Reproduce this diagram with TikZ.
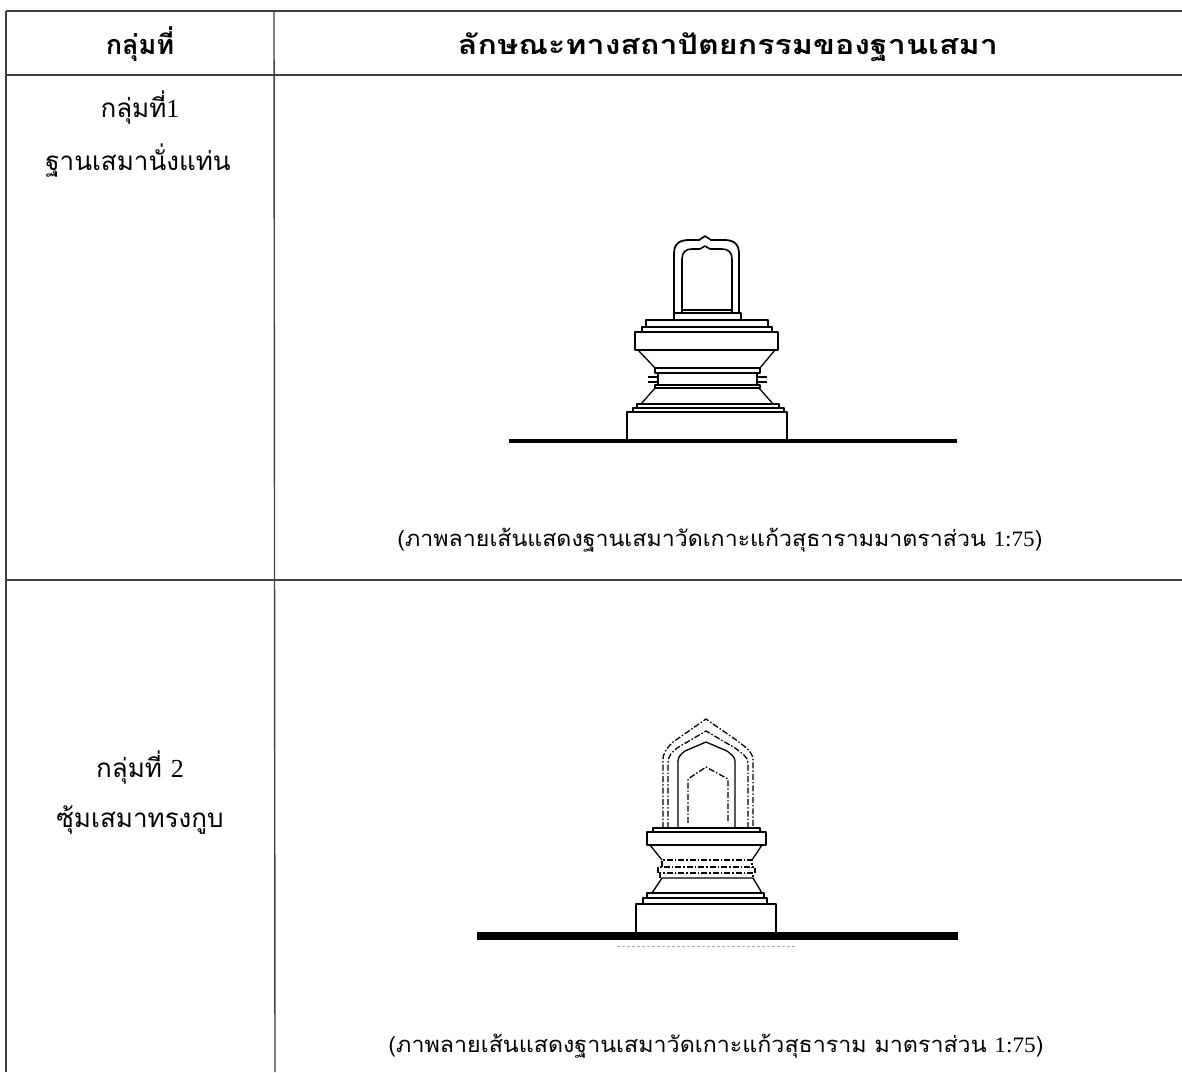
\documentclass[tikz,border=0pt]{standalone}
\usepackage{fontspec}
\setmainfont[Script=Thai]{Loma}
\newfontfamily\lat{Liberation Serif}
\begin{document}
\begin{tikzpicture}[x=1pt,y=-1pt,
  tabline/.style={draw=black!75, line width=1.4pt},
  hdr/.style={font=\fontsize{27}{30}\selectfont\bfseries, anchor=base},
  cell/.style={font=\fontsize{26}{30}\selectfont, anchor=base},
  captxt/.style={font=\fontsize{22}{25}\selectfont, anchor=base},
  ink/.style={draw=black, line width=1.3pt, line join=round},
  dsh/.style={ink, dash pattern=on 6pt off 2pt on 1.5pt off 2pt},
  groundline/.style={draw=black, line width=#1},
]
\useasboundingbox (0,0) rectangle (1182,1072);
% table lines
\coordinate (tl) at (6,11);
\coordinate (tr) at (1182,11);
\coordinate (hl) at (6,75);
\coordinate (hr) at (1182,75);
\coordinate (rl) at (6,580);
\coordinate (rr) at (1182,580);
\coordinate (bl) at (6,1072);
\coordinate (dt) at (274,11);
\coordinate (db) at (275,1072);
\draw[tabline] (tl) -- (tr);
\draw[tabline] (hl) -- (hr);
\draw[tabline] (rl) -- (rr);
\draw[tabline] (tl) -- (bl);
\draw[tabline] (dt) -- (db);
% header
\node[hdr] (h1) at (140,54) {กลุ่มที่};
\node[hdr] (h2) at (728,54) {\resizebox{540pt}{\height}{ลักษณะทางสถาปัตยกรรมของฐานเสมา}};
% row 1
\node[cell] (g1a) at (140,117) {กลุ่มที่{\lat 1}};
\node[cell] (g1b) at (138,170) {ฐานเสมานั่งแท่น};
\node[captxt] (c1) at (720,546) {\resizebox{645pt}{\height}{(ภาพลายเส้นแสดงฐานเสมาวัดเกาะแก้วสุธารามมาตราส่วน {\lat 1:75})}};
% row 2
\node[cell] (g2a) at (140,777) {กลุ่มที่ {\lat 2}};
\node[cell] (g2b) at (140,827) {ซุ้มเสมาทรงกูบ};
\node[captxt] (c2) at (716,1052) {\resizebox{655pt}{\height}{(ภาพลายเส้นแสดงฐานเสมาวัดเกาะแก้วสุธาราม มาตราส่วน {\lat 1:75})}};

% ---------- drawing 1 ----------
\coordinate (g1l) at (509,441);
\coordinate (g1r) at (957,441);
\draw[groundline=4.5pt] (g1l) -- (g1r);
\draw[ink] (627,441) -- (627,412) -- (787,412) -- (787,441);
\draw[ink] (633,412) -- (633,408) -- (784,408) -- (784,412);
\draw[ink] (637,408) -- (637,404) -- (779,404) -- (779,408);
\draw[ink] (641,404) -- (655,388) -- (759,388) -- (773,404) -- cycle;
\draw[ink] (655,385) rectangle (760,388);
\draw[ink] (658,373) rectangle (757,385);
\draw[ink] (655,368) rectangle (760,373);
\draw[ink] (655,368) -- (638,350) -- (775,350) -- (760,368);
\draw[ink] (635,332) rectangle (778,350);
\draw[ink] (642,327) rectangle (772,332);
\draw[ink] (646,320) rectangle (768,327);
\draw[ink] (648,377) -- (658,377) (648,382) -- (658,382);
\draw[ink] (757,377) -- (767,377) (757,382) -- (767,382);
% sema 1
\draw[ink] (674,320) -- (674,313) -- (741,313) -- (741,320);
\draw[ink, line width=1.8pt] (674,313) -- (674,254) .. controls (674,244) and (679,240) .. (689,240)
  -- (699,240) -- (705,236) -- (711,240) -- (724,240)
  .. controls (734,240) and (739,244) .. (739,254) -- (739,313);
\draw[ink, line width=1.6pt] (682,313) -- (682,259) .. controls (682,252) and (686,249) .. (692,249)
  -- (700,249) -- (705,246) -- (710,249) -- (722,249)
  .. controls (728,249) and (732,252) .. (732,259) -- (732,313);
\draw[ink] (682,310) -- (732,310);

% ---------- drawing 2 ----------
\coordinate (g2l) at (477,936);
\coordinate (g2r) at (958,936);
\draw[groundline=8.5pt] (g2l) -- (g2r);
\draw[draw=black!35, line width=0.8pt, dash pattern=on 3pt off 2pt] (617,946) -- (797,946);
\draw[ink] (636,932) -- (636,904) -- (776,904) -- (776,932);
\draw[ink] (643,904) -- (643,898) -- (767,898) -- (767,904);
\draw[ink] (647,898) -- (647,893) -- (764,893) -- (764,898);
\draw[ink] (652,893) -- (662,878) -- (753,878) -- (762,893);
\draw[dsh] (660,878) -- (660,873) -- (753,873) -- (753,878);
\draw[dsh] (658,873) -- (658,867) -- (755,867) -- (755,873);
\draw[dsh] (662,867) -- (662,860) -- (752,860) -- (752,867);
\draw[ink] (662,860) -- (650,845) -- (762,845) -- (752,860);
\draw[ink] (647,832) rectangle (766,845);
\draw[ink] (653,828) rectangle (760,832);
% sema 2 (kub shape)
\draw[dsh] (663,828) -- (663,760) .. controls (663,752) and (668,747) .. (673,742) -- (706,719) -- (739,742)
  .. controls (745,747) and (753,752) .. (753,760) -- (753,828);
\draw[dsh] (668,828) -- (668,763) .. controls (668,756) and (672,752) .. (677,748) -- (706,731) -- (735,748)
  .. controls (740,752) and (748,756) .. (748,763) -- (748,828);
\draw[ink] (678,828) -- (678,761) .. controls (678,757) and (681,754) .. (685,751) -- (706,742) -- (727,751)
  .. controls (731,754) and (735,757) .. (735,761) -- (735,828);
\draw[dsh] (688,823) -- (688,779) -- (706,767) -- (728,779) -- (728,823);
\end{tikzpicture}
\end{document}
